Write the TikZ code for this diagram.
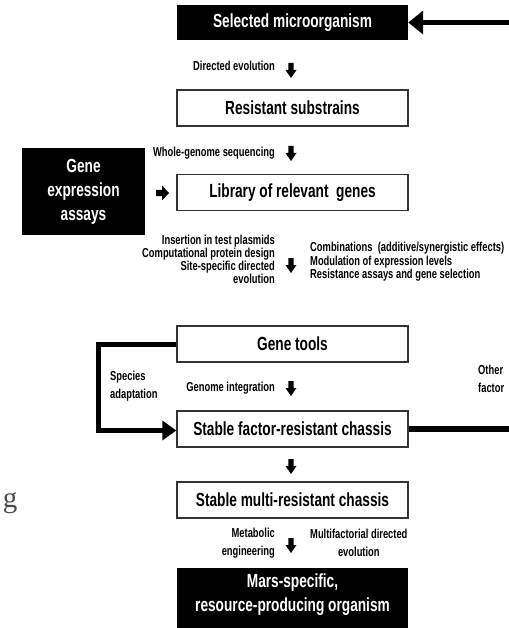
\documentclass[tikz,border=0pt]{standalone}
\usepackage{fontspec}
\newfontfamily\cond{Liberation Sans}[FakeStretch=0.72]
\newfontfamily\gserif{Liberation Serif}
\usetikzlibrary{arrows.meta}
\begin{document}
\begin{tikzpicture}[x=1pt,y=-1pt,
  boxbase/.style={minimum width=231pt, minimum height=36pt, inner sep=0pt,
    font=\cond\bfseries\fontsize{19}{24}\selectfont, align=center},
  wbox/.style={boxbase, draw=black!80, line width=1.3pt, fill=white},
  bbox/.style={boxbase, fill=black, text=white},
  lbl/.style={inner sep=0pt, font=\cond\bfseries\fontsize{13}{12}\selectfont},
  lblwide/.style={inner sep=0pt, font=\cond\bfseries\fontsize{13}{13.5}\selectfont},
  lbltall/.style={inner sep=0pt, font=\cond\bfseries\fontsize{13}{17.5}\selectfont},
  darrow/.pic={\fill (-2.6,-7) -- (2.6,-7) -- (2.6,0) -- (5.5,0) -- (0,8) -- (-5.5,0) -- (-2.6,0) -- cycle;},
  rarrow/.pic={\fill (-6,-3.2) -- (0,-3.2) -- (0,-7.5) -- (7,0) -- (0,7.5) -- (0,3.2) -- (-6,3.2) -- cycle;},
  fatline/.style={line width=#1, line join=miter}
]
\useasboundingbox (0,0) rectangle (508,628);
\fill[white] (0,0) rectangle (508,628);

% main column boxes
\node[bbox, minimum height=35pt] (sm) at (292.5,22.5) {Selected microorganism};
\node[wbox] (rs) at (292.5,108) {Resistant substrains};
\node[wbox] (lib) at (292.5,192.5) {Library of relevant\ \ genes};
\node[wbox] (gt) at (292.5,344) {Gene tools};
\node[wbox] (sf) at (292.5,429) {Stable factor-resistant chassis};
\node[wbox] (smr) at (292.5,500) {Stable multi-resistant chassis};
\node[bbox, minimum height=64pt] (mars) at (292.5,600) {};
\node[inner sep=0pt, text=white, align=center, font=\cond\bfseries\fontsize{19}{24}\selectfont] (marstxt) at (292.5,595) {Mars-specific,\\resource-producing organism};

% side box
\node[bbox, minimum width=123pt, minimum height=87pt] (gea) at (83.5,191.5) {Gene\\expression\\assays};

% block arrows
\pic (a1) at (291,70) {darrow};
\pic (a2) at (291,153) {darrow};
\pic (a3) at (291,265) {darrow};
\pic (a4) at (291,388) {darrow};
\pic (a5) at (291,466) {darrow};
\pic (a6) at (291,545) {darrow};
\pic (a7) at (162,193) {rarrow};

% labels
\node[lbl, anchor=east] (de) at (275,66) {Directed evolution};
\node[lbl, anchor=east] (wgs) at (275,153) {Whole-genome sequencing};
\node[lbl, anchor=east, align=right] (ins) at (275,259.5) {Insertion in test plasmids\\Computational protein design\\Site-specific directed\\evolution};
\node[lblwide, anchor=west, align=left] (comb) at (310,262) {Combinations\ \ (additive/synergistic effects)\\Modulation of expression levels\\Resistance assays and gene selection};
\node[lbltall, anchor=west, align=left] (spa) at (110,386) {Species\\adaptation};
\node[lbl, anchor=east] (gi) at (275,388) {Genome integration};
\node[lbltall, anchor=west, align=left] (of) at (478,379) {Other\\factor};
\node[lbltall, anchor=east, align=right] (me) at (275,543) {Metabolic\\engineering};
\node[lbltall, anchor=west, align=center] (mde) at (310,543) {Multifactorial directed\\evolution};

% connectors
\coordinate (tr) at (512,22.5);
\draw[fatline=4.5pt, -{Triangle[length=15pt,width=23pt]}] (tr) -- (sm.east);
\draw[fatline=5pt, -{Triangle[length=14pt,width=19pt]}] (gt.west) -- ++(-77.5,0) |- ([yshift=-1.5pt]sf.west);
\coordinate (rr) at (512,429);
\draw[fatline=6.5pt] (sf.east) -- (rr);

% stray glyph at left edge
\node[inner sep=0pt, anchor=base, text=black!70, font=\gserif\fontsize{29}{29}\selectfont] (g) at (10,507) {g};
\end{tikzpicture}
\end{document}
